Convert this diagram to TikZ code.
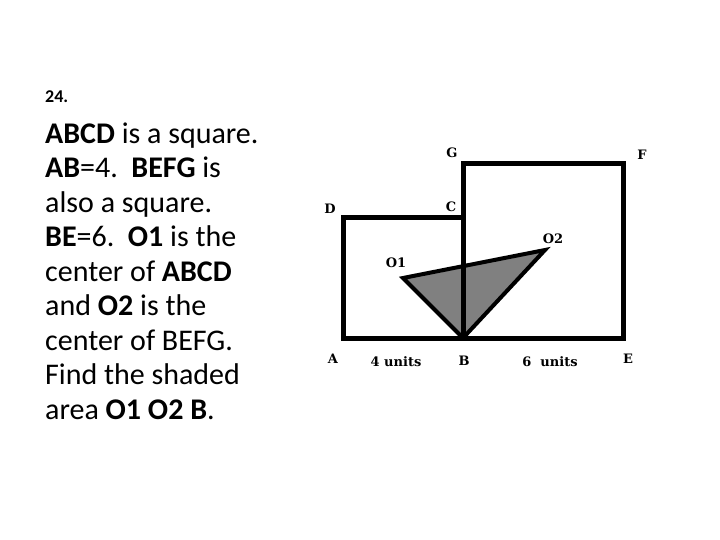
\documentclass[tikz,border=0pt]{standalone}
\usepackage{fontspec}
\setmainfont{Carlito}
\newfontfamily\figfont{DejaVu Serif}
\usetikzlibrary{positioning}

\definecolor{shadegray}{RGB}{128,128,128}

\begin{document}
\begin{tikzpicture}[x=1pt,y=-1pt]
  \tikzset{
    sqline/.style={line width=5pt, line join=miter},
    triline/.style={line width=4pt, line join=miter, fill=shadegray},
    ptlabel/.style={font=\figfont\bfseries\fontsize{13}{13}\selectfont, inner sep=0pt},
    qtext/.style={align=left, inner sep=0pt, anchor=base west,
      font=\fontsize{30}{34.5}\selectfont}
  }
  \useasboundingbox (0,0) rectangle (720,540);

  % Corners of both squares
  \coordinate (A) at (343,338);
  \coordinate (B) at (463,338);
  \coordinate (C) at (463,218);
  \coordinate (D) at (343,218);
  \coordinate (E) at (623,338);
  \coordinate (F) at (623,164);
  \coordinate (G) at (463,164);

  % Centres
  \coordinate (O1) at (403,278);
  \coordinate (O2) at (545,250);

  % Shaded triangle
  \draw[triline] (O1) -- (O2) -- (B) -- cycle;

  % Squares ABCD and BEFG
  \draw[sqline] (B) -- (A) -- (D) -- (C) -- (B);
  \draw[sqline] (B) -- (E) -- (F) -- (G) -- (B);

  % Point labels
  \node[ptlabel] (lA) at (333,359) {A};
  \node[ptlabel] (lB) at (464,361) {B};
  \node[ptlabel] (lC) at (451,207) {C};
  \node[ptlabel] (lD) at (330,209) {D};
  \node[ptlabel] (lE) at (628,359) {E};
  \node[ptlabel] (lF) at (642,155) {F};
  \node[ptlabel] (lG) at (452,153) {G};
  \node[ptlabel] (lO1) at (396,263) {O1};
  \node[ptlabel] (lO2) at (553,239) {O2};
  \node[ptlabel] (lAB) at (396,362) {4 units};
  \node[ptlabel] (lBE) at (550,362) {6\ \ units};

  % Problem text
  \node[qtext, font=\bfseries\fontsize{18}{18}\selectfont] (num) at (45,103) {24.};
  \node[qtext] (task) at (45,419) {%
    \textbf{ABCD} is a square.\\
    \textbf{AB}=4.\ \ \textbf{BEFG} is\\
    also a square.\\
    \textbf{BE}=6.\ \ \textbf{O1} is the\\
    center of \textbf{ABCD}\\
    and \textbf{O2} is the\\
    center of BEFG.\\
    Find the shaded\\
    area \textbf{O1 O2 B}.};
\end{tikzpicture}
\end{document}
